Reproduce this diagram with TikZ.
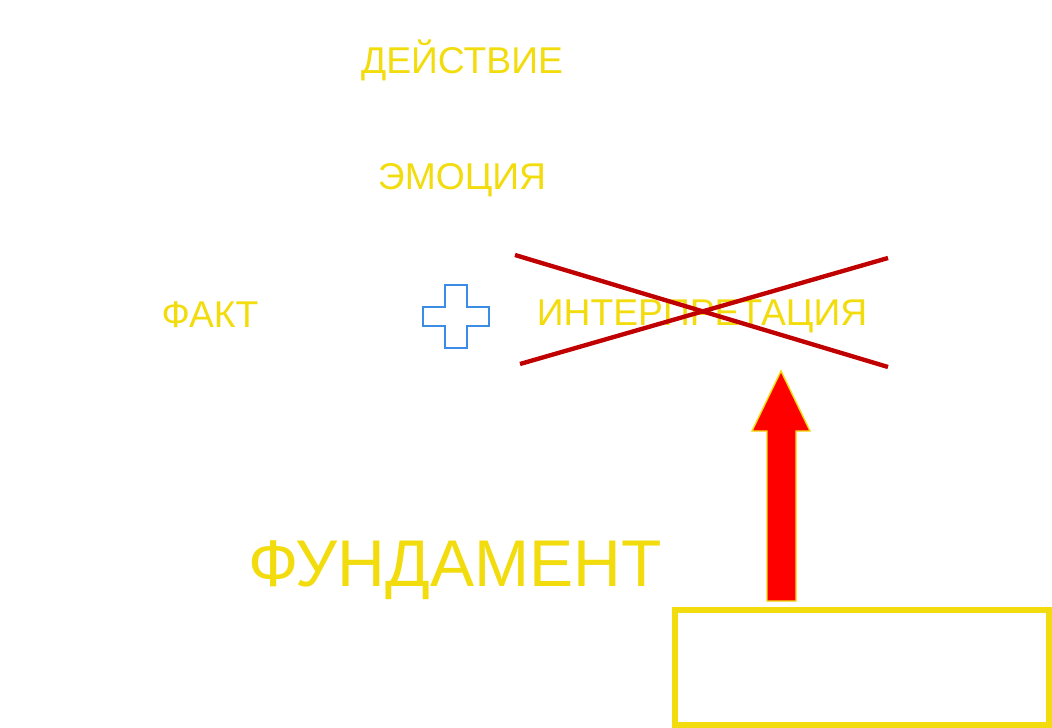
\documentclass[tikz,border=0pt]{standalone}
\usepackage{fontspec}
\setmainfont{Liberation Sans}
\definecolor{wordgold}{RGB}{242,220,14}
\definecolor{crossred}{RGB}{192,0,0}
\definecolor{plusblue}{RGB}{58,140,228}
\begin{document}
\begin{tikzpicture}[x=0.025cm, y=-0.025cm,
  word/.style={text=wordgold, anchor=base, inner sep=0pt, font=\fontsize{26.5}{30}\selectfont},
  bigword/.style={word, font=\fontsize{47}{54}\selectfont},
  strike/.style={crossred, line width=3.1pt},
  basebox/.style={draw=wordgold, line width=4.3pt}]
\useasboundingbox (0,0) rectangle (1052,728);
\node[word] (deistvie) at (462,74) {ДЕЙСТВИЕ};
\node[word] (emotsiya) at (462,190) {ЭМОЦИЯ};
\node[word] (fakt) at (210,327) {ФАКТ};
\node[word] (interp) at (702,326) {ИНТЕРПРЕТАЦИЯ};
\node[bigword] (fundament) at (455,586) {ФУНДАМЕНТ};
% plus sign
\draw[plusblue, line width=1.4pt, fill=white] (445,285) -- (467,285) -- (467,307) -- (489,307) -- (489,326) -- (467,326) -- (467,348) -- (445,348) -- (445,326) -- (423,326) -- (423,307) -- (445,307) -- cycle;
% crossed out
\draw[strike] (515,255) -- (888,367);
\draw[strike] (520,364) -- (888,258);
% base box and arrow
\draw[basebox] (675,610) rectangle (1049,725);
\draw[wordgold, line width=1pt, fill=red] (781,371) -- (810,431) -- (796,431) -- (796,601) -- (767,601) -- (767,431) -- (752,431) -- cycle;
\end{tikzpicture}
\end{document}
